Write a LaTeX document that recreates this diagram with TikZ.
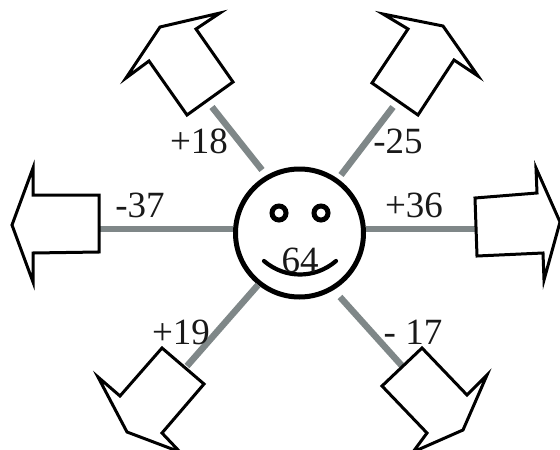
\documentclass[tikz,border=0pt]{standalone}
\usepackage{fontspec}
\setmainfont{Liberation Serif}
\definecolor{spoke}{HTML}{7F8788}
\tikzset{
  arrowshape/.style={draw=black,line width=3pt,fill=white,line join=miter,miter limit=10},
  spokeline/.style={draw=spoke,line width=6.5pt},
  facering/.style={circle,draw=black,line width=5pt,fill=white,minimum size=128pt,inner sep=0pt},
  eye/.style={circle,draw=black,line width=5pt,minimum size=14pt,inner sep=0pt},
  lab/.style={font=\fontsize{37}{37}\selectfont,inner sep=0pt,text=black!90}
}
\begin{document}
\begin{tikzpicture}[x=1pt,y=-1pt]
\useasboundingbox (0,0) rectangle (560,450);
% face
\node[facering] (face) at (299.5,233) {};
\node[eye] (eyeL) at (279,213) {};
\node[eye] (eyeR) at (321,213) {};
\coordinate (smileL) at (264,261);
\coordinate (smileR) at (336,261);
\draw[line width=4.2pt,line cap=round] (smileL) .. controls (285,279) and (315,279) .. (smileR);
% attachment points
\coordinate (aTL) at (212,107);
\coordinate (aTR) at (393,107);
\coordinate (aL) at (100,229);
\coordinate (aR) at (476,229);
\coordinate (aBL) at (187,366);
\coordinate (aBR) at (403,367);
\coordinate (fTL) at (262,170);
\coordinate (fTR) at (341,175);
\coordinate (fL) at (233,229);
\coordinate (fR) at (366,229);
\coordinate (fBL) at (258,285);
\coordinate (fBR) at (340,297);
% spokes
\draw[spokeline] (aTL) -- (fTL);
\draw[spokeline] (aTR) -- (fTR);
\draw[spokeline] (aL) -- (fL);
\draw[spokeline] (aR) -- (fR);
\draw[spokeline] (aBL) -- (fBL);
\draw[spokeline] (aBR) -- (fBR);
% arrows
\draw[arrowshape] (220,13) -- (160,27) -- (126,78) -- (149,61) -- (187,115) -- (233,82) -- (196,29) -- cycle;
\draw[arrowshape] (383,14) -- (443,26) -- (478,76) -- (454,60) -- (418,115) -- (372,83) -- (408,29) -- cycle;
\draw[arrowshape] (33,168) -- (12,225) -- (33,282) -- (33,253) -- (99,252) -- (99,195) -- (33,195) -- cycle;
\draw[arrowshape] (475,198) -- (537,193) -- (536,168) -- (560,222) -- (544,280) -- (543,253) -- (477,256) -- cycle;
\draw[arrowshape] (98,377) -- (120,396) -- (162,348) -- (204,384) -- (162,433) -- (180,452) -- (127,432) -- cycle;
\draw[arrowshape] (422,348) -- (467,395) -- (487,375) -- (463,430) -- (413,452) -- (427,433) -- (382,386) -- cycle;
% labels
\node[lab] (l18) at (199,141) {+18};
\node[lab] (l25) at (398,141) {-25};
\node[lab] (l37) at (140,205) {-37};
\node[lab] (l36) at (414,205) {+36};
\node[lab] (l64) at (300,260) {64};
\node[lab] (l19) at (181,332) {+19};
\node[lab] (l17) at (413,332) {- 17};
\end{tikzpicture}
\end{document}
